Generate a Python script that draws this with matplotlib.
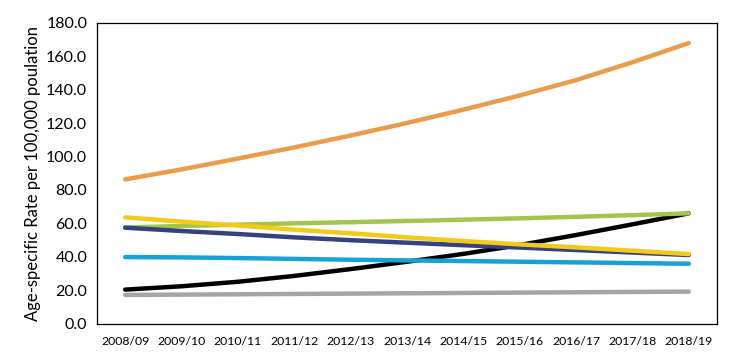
import matplotlib
matplotlib.use("Agg")
import matplotlib.pyplot as plt

categories = ["2008/09", "2009/10", "2010/11", "2011/12", "2012/13", "2013/14",
              "2014/15", "2015/16", "2016/17", "2017/18", "2018/19"]

black_vals = [20.3, 22.3, 25.0, 28.5, 32.6, 37.0, 41.7, 47.0, 53.0, 59.4, 66.0]
green_vals = [57.5, 58.4, 59.2, 60.0, 60.7, 61.4, 62.2, 63.0, 63.9, 64.9, 66.0]
darkblue_vals = [57.4, 55.4, 53.6, 51.6, 49.9, 48.4, 46.9, 45.5, 44.0, 42.5, 41.0]
yellow_vals = [63.6, 61.0, 58.7, 56.2, 54.0, 51.6, 49.4, 47.4, 45.6, 43.6, 41.6]
lightblue_vals = [39.8, 39.6, 39.2, 38.7, 38.2, 37.8, 37.4, 37.0, 36.6, 36.2, 35.8]
grey_vals = [17.1, 17.3, 17.5, 17.7, 17.9, 18.1, 18.3, 18.5, 18.7, 18.9, 19.1]
orange_vals = [86.3, 92.3, 98.8, 105.5, 112.6, 120.1, 128.1, 136.6, 145.8, 156.5, 168.0]

series = [
    (black_vals, "#000000"),
    (green_vals, "#A2C64A"),
    (darkblue_vals, "#36427E"),
    (yellow_vals, "#F3CA1A"),
    (lightblue_vals, "#16A1D7"),
    (grey_vals, "#A5A5A5"),
    (orange_vals, "#EC9C48"),
]

y_ticks = [0, 20, 40, 60, 80, 100, 120, 140, 160, 180]

plt.rcParams['font.family'] = ['Lato', 'DejaVu Sans']

fig = plt.figure(figsize=(7.32, 3.58), dpi=100)
ax = fig.add_axes([97/732, 1 - 323.5/358, (717 - 97)/732, (323.5 - 23)/358])

x = list(range(len(categories)))
for vals, col in series:
    ax.plot(x, vals, color=col, linewidth=3.2, solid_capstyle='round',
            solid_joinstyle='round')

ax.set_xlim(-0.5, len(categories) - 0.5)
ax.set_ylim(0, 180)
ax.set_yticks(y_ticks)
ax.set_yticklabels([f"{v:.1f}" for v in y_ticks], fontsize=11.5)
ax.set_xticks(x)
ax.set_xticklabels(categories, fontsize=8.8)
ax.tick_params(axis='both', length=0)
ax.tick_params(axis='y', pad=7)
ax.tick_params(axis='x', pad=9)
for s in ax.spines.values():
    s.set_color("#000000")
    s.set_linewidth(0.9)

ax.set_ylabel("Age-specific Rate per 100,000 poulation", fontsize=12, labelpad=4)

fig.savefig("out.png", dpi=100)
